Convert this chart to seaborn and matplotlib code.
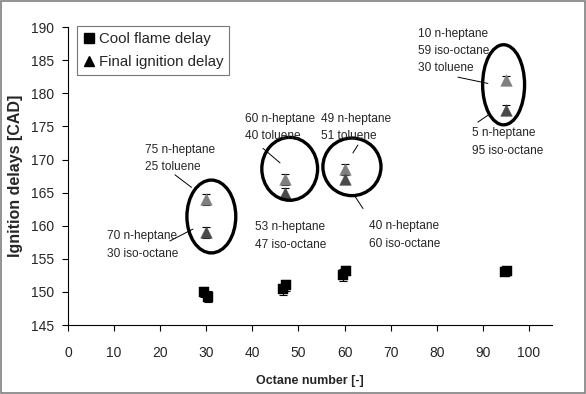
import matplotlib
matplotlib.use("Agg")
import matplotlib.pyplot as plt
import seaborn as sns
import pandas as pd
from matplotlib.patches import Ellipse, Rectangle
from matplotlib.lines import Line2D

sns.set_style("white")
plt.rcParams['font.family'] = ['Liberation Sans', 'DejaVu Sans']

# Cool flame delay (squares), two runs per octane number
cool_x = [29.5, 30.3, 46.7, 47.3, 59.7, 60.3, 94.7, 95.3]
cool_y = [150.0, 149.3, 150.4, 151.0, 152.5, 153.2, 153.0, 153.2]
cool_err = [0.8, 0.8, 0.8, 0.8, 0.9, 0.7, 0.5, 0.4]

# Final ignition delay (triangles)
tol_x = [30, 47, 60, 95]            # toluene-containing blends (lighter grey)
tol_y = [164.0, 167.0, 168.5, 182.0]
tol_err = [0.8, 0.8, 0.8, 0.7]
iso_x = [30, 47, 60, 95]            # iso-octane blends (darker grey)
iso_y = [159.0, 165.0, 167.0, 177.5]
iso_err = [0.8, 0.7, 0.7, 0.7]

x_ticks = [0, 10, 20, 30, 40, 50, 60, 70, 80, 90, 100]
y_ticks = [145, 150, 155, 160, 165, 170, 175, 180, 185, 190]

labels = ["75 n-heptane\n25 toluene", "70 n-heptane\n30 iso-octane",
          "60 n-heptane\n40 toluene", "53 n-heptane\n47 iso-octane",
          "49 n-heptane\n51 toluene", "40 n-heptane\n60 iso-octane",
          "10 n-heptane\n59 iso-octane\n30 toluene", "5 n-heptane\n95 iso-octane"]

fig = plt.figure(figsize=(5.86, 3.94), dpi=100)
fig.patches.append(Rectangle((0.002, 0.003), 0.996, 0.994, transform=fig.transFigure,
                             fill=False, edgecolor='#808080', lw=1.2))
ax = fig.add_axes([0.116, 0.175, 0.826, 0.756])

# error bars
for xs, ys, es in [(cool_x, cool_y, cool_err), (tol_x, tol_y, tol_err), (iso_x, iso_y, iso_err)]:
    ax.errorbar(xs, ys, yerr=es, fmt='none', ecolor='black', elinewidth=0.8,
                capsize=3, capthick=0.8, zorder=2)

df_cool = pd.DataFrame({"x": cool_x, "y": cool_y})
df_tol = pd.DataFrame({"x": tol_x, "y": tol_y})
df_iso = pd.DataFrame({"x": iso_x, "y": iso_y})
sns.scatterplot(data=df_cool, x="x", y="y", marker='s', s=55, color='black', edgecolor='black', linewidth=0.3, ax=ax, zorder=3)
sns.scatterplot(data=df_tol, x="x", y="y", marker='^', s=70, color='#7f7f7f', edgecolor='#7f7f7f', linewidth=0.3, ax=ax, zorder=3)
sns.scatterplot(data=df_iso, x="x", y="y", marker='^', s=70, color='#4a4a4a', edgecolor='#4a4a4a', linewidth=0.3, ax=ax, zorder=3)

# ellipses
for cx, cy, w, h in [(31.1, 161.4, 10.6, 11.0), (48.1, 168.6, 12.1, 9.5),
                     (61.6, 168.9, 12.6, 8.7), (94.5, 181.3, 9.1, 12.1)]:
    ax.add_patch(Ellipse((cx, cy), w, h, fill=False, edgecolor='black', lw=2.4, zorder=4))

# annotations: text pos (top-left), leader line
ann = [((16.7, 172.4), [(23.2, 167.7), (26.8, 165.8)]),
       ((8.5, 159.3), [(22.1, 157.7), (27.1, 159.5)]),
       ((38.4, 177.1), [(42.3, 171.7), (46.0, 169.5)]),
       ((40.6, 160.7), None),
       ((54.9, 177.1), [(62.9, 172.2), (61.8, 171.0)]),
       ((65.3, 160.8), [(62.3, 164.4), (64.0, 162.6)]),
       ((75.9, 189.95), [(84.6, 182.45), (91.1, 181.5)]),
       ((87.6, 174.85), [(88.9, 175.65), (91.1, 176.7)])]
for lab, (pos, line) in zip(labels, ann):
    ax.text(pos[0], pos[1], lab, fontsize=8.6, ha='left', va='top', linespacing=1.6, zorder=5)
    if line:
        ax.plot([line[0][0], line[1][0]], [line[0][1], line[1][1]], color='black', lw=0.7, zorder=4)

ax.set_xlim(0, 105)
ax.set_ylim(145, 190)
ax.set_xticks(x_ticks)
ax.set_yticks(y_ticks)
ax.tick_params(axis='both', labelsize=10, direction='out', length=4, width=0.8, color='black', pad=6,
               bottom=True, left=True)
ax.tick_params(axis='x', pad=11)
for s in ['top', 'right']:
    ax.spines[s].set_visible(False)
for s in ['left', 'bottom']:
    ax.spines[s].set_color('black')
    ax.spines[s].set_linewidth(0.8)
ax.set_xlabel("Octane number [-]", fontsize=9, fontweight='bold', labelpad=11)
ax.set_ylabel("Ignition delays [CAD]", fontsize=11.5, fontweight='bold', labelpad=6)

handles = [Line2D([], [], marker='s', color='black', ls='none', markersize=6.5),
           Line2D([], [], marker='^', color='black', ls='none', markersize=7)]
leg = ax.legend(handles, ["Cool flame delay", "Final ignition delay"], loc='upper left',
                bbox_to_anchor=(0.0186, 1.004), fontsize=10.8, frameon=True, fancybox=False,
                handletextpad=0.25, handlelength=0.8, borderpad=0.4, labelspacing=0.6,
                borderaxespad=0.0)
leg.get_frame().set_edgecolor('#555555')
leg.get_frame().set_linewidth(0.8)

fig.savefig("out.png", dpi=100)
